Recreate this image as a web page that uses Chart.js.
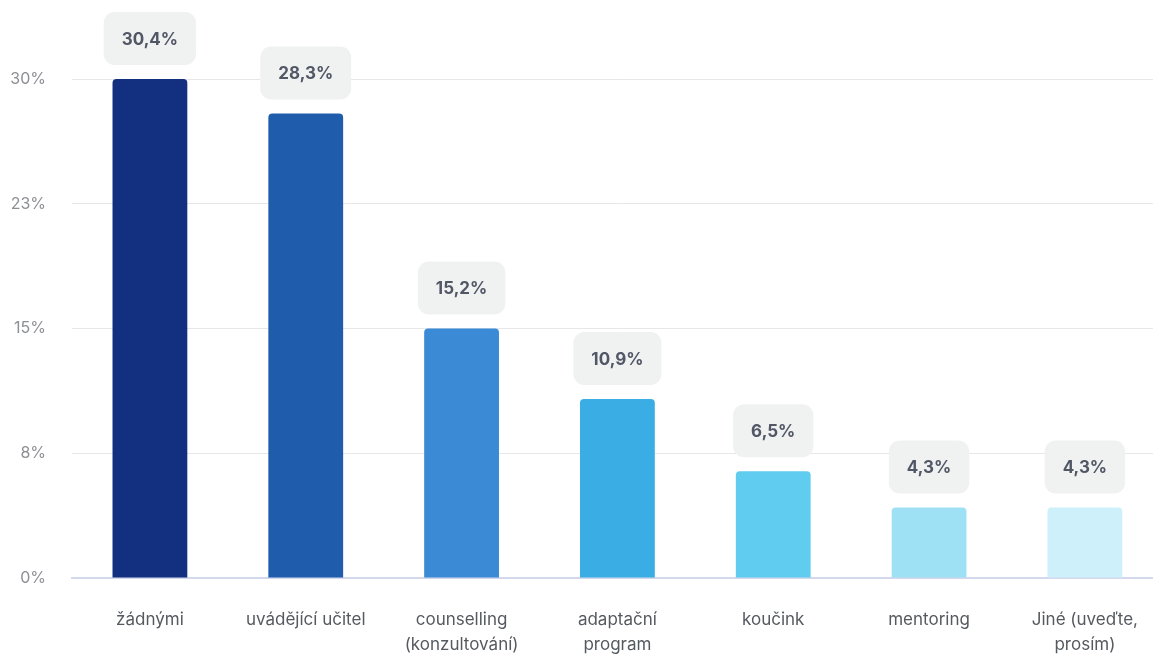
<!DOCTYPE html>
<html>
<head>
<meta charset="utf-8">
<script src="https://cdn.jsdelivr.net/npm/chart.js@4"></script>
<style>
  html, body { margin: 0; padding: 0; background: #fff; overflow: hidden; }
  #frame { width: 1153px; height: 655px; overflow: hidden; }
  #wrap { width: 1168px; height: 655px; }
</style>
</head>
<body>
<div id="frame"><div id="wrap"><canvas id="chart"></canvas></div></div>
<script>
// Categories and shares (%)
const categories = [
    'žádnými',
    'uvádějící učitel',
    ['counselling', '(konzultování)'],
    ['adaptační', 'program'],
    'koučink',
    'mentoring',
    ['Jiné (uveďte,', 'prosím)']
];
const shares = [30.4, 28.3, 15.2, 10.9, 6.5, 4.3, 4.3];
const barColors = ['#132f80', '#1f5cab', '#3a8ad6', '#3aaee4', '#60cdf0', '#9fe1f4', '#cdf0fa'];

// Grey rounded badge with the value above each bar
const valueBadges = {
    id: 'valueBadges',
    afterDatasetsDraw(chart) {
        const ctx = chart.ctx;
        const meta = chart.getDatasetMeta(0);
        ctx.save();
        ctx.font = 'bold 17px Inter, "Noto Sans", sans-serif';
        ctx.textAlign = 'center';
        ctx.textBaseline = 'middle';
        meta.data.forEach((bar, i) => {
            const text = shares[i].toFixed(1).replace('.', ',') + '%';
            const w = ctx.measureText(text).width + 36;
            const h = 53;
            const x = bar.x - w / 2;
            const y = bar.y - 14 - h;
            ctx.fillStyle = '#f0f1f1';
            ctx.beginPath();
            ctx.roundRect(x, y, w, h, 11);
            ctx.fill();
            ctx.fillStyle = '#525766';
            ctx.fillText(text, bar.x, y + h / 2 + 1);
        });
        ctx.restore();
    }
};

new Chart(document.getElementById('chart'), {
    type: 'bar',
    data: {
        labels: categories,
        datasets: [{
            data: shares,
            backgroundColor: barColors,
            borderRadius: 4,
            categoryPercentage: 1,
            barPercentage: 0.48
        }]
    },
    options: {
        responsive: true,
        maintainAspectRatio: false,
        animation: false,
        layout: { padding: { top: 79, left: 0, right: 0, bottom: 0 } },
        plugins: {
            legend: { display: false },
            tooltip: { enabled: false }
        },
        scales: {
            x: {
                grid: { display: false, drawTicks: false },
                border: { color: '#d3d8ec', width: 2 },
                ticks: {
                    color: '#555a60',
                    font: { family: 'Inter, "Noto Sans", sans-serif', size: 17, lineHeight: 1.45 },
                    padding: 30,
                    maxRotation: 0,
                    autoSkip: false
                },
                afterFit(scale) { scale.height = 77; }
            },
            y: {
                min: 0,
                max: 30.4,
                grid: { color: '#e7e7e9', drawTicks: false },
                border: { display: false },
                ticks: {
                    stepSize: 7.6,
                    color: '#8d8f94',
                    font: { family: 'Inter, "Noto Sans", sans-serif', size: 16 },
                    padding: 26,
                    callback: v => Math.round(v) + '%'
                },
                afterFit(scale) { scale.width = 72; }
            }
        }
    },
    plugins: [valueBadges]
});
</script>
</body>
</html>
